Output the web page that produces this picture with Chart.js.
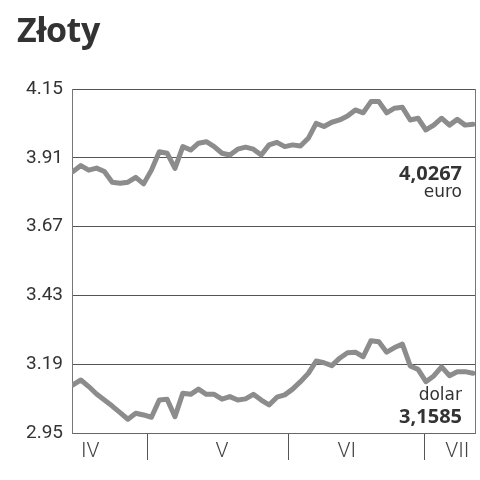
<!DOCTYPE html>
<html>
<head>
<meta charset="utf-8">
<script src="https://cdn.jsdelivr.net/npm/chart.js@4.4.1/dist/chart.umd.min.js"></script>
<style>
  body { margin: 0; background: #fff; }
  #wrap { position: relative; width: 480px; height: 480px; }
  #title {
    position: absolute; left: 17px; top: 6px; margin: 0;
    font: bold 34px "Open Sans", sans-serif; color: #333; letter-spacing: -0.5px;
  }
  canvas { position: absolute; left: 0; top: 0; }
</style>
</head>
<body>
<div id="wrap">
  <canvas id="zlotyChart" width="480" height="480"></canvas>
  <h1 id="title">Złoty</h1>
</div>
<script>
// kursy (dni robocze, od połowy kwietnia do początku lipca)
const euroValues = [3.862, 3.883, 3.867, 3.874, 3.862, 3.825, 3.821, 3.825, 3.842, 3.819,
  3.867, 3.931, 3.926, 3.873, 3.949, 3.937, 3.961, 3.966, 3.949, 3.926,
  3.920, 3.940, 3.947, 3.940, 3.920, 3.955, 3.964, 3.949, 3.955, 3.951,
  3.978, 4.030, 4.019, 4.034, 4.042, 4.056, 4.077, 4.067, 4.106, 4.106,
  4.067, 4.083, 4.086, 4.042, 4.048, 4.007, 4.024, 4.048, 4.024, 4.044,
  4.024, 4.0267];
const dollarValues = [3.118, 3.135, 3.112, 3.086, 3.065, 3.044, 3.021, 2.998, 3.019, 3.013,
  3.005, 3.065, 3.068, 3.007, 3.089, 3.085, 3.103, 3.085, 3.085, 3.068,
  3.077, 3.065, 3.069, 3.085, 3.065, 3.048, 3.075, 3.083, 3.103, 3.129,
  3.158, 3.201, 3.195, 3.185, 3.211, 3.230, 3.232, 3.216, 3.272, 3.268,
  3.232, 3.248, 3.260, 3.184, 3.172, 3.129, 3.149, 3.181, 3.150, 3.164,
  3.164, 3.1585];

const yTicks = [2.95, 3.19, 3.43, 3.67, 3.91, 4.15];
const monthLabels = ['IV', 'V', 'VI', 'VII'];
const monthCenters = [2.2, 19.0, 34.9, 49.0];   // w jednostkach dni
const monthBreaks = [9.44, 27.54, 44.88];

const euroLast = '4,0267';
const dollarLast = '3,1585';

const LINE = '#8c8c8c';
const TEXT = '#333';

const toPoints = arr => arr.map((v, i) => ({ x: i, y: v }));

// opisy przy prawej krawędzi
const endLabels = {
  id: 'endLabels',
  afterDatasetsDraw(chart) {
    const { ctx, chartArea } = chart;
    const yScale = chart.scales.y;
    const x = chartArea.right - 13;
    ctx.save();
    ctx.fillStyle = TEXT;
    ctx.textAlign = 'right';
    ctx.textBaseline = 'middle';
    const yEuro = yScale.getPixelForValue(3.91);
    ctx.font = 'bold 20px "Open Sans", sans-serif';
    ctx.fillText(euroLast, x, yEuro + 16);
    ctx.font = '17px "DejaVu Sans", sans-serif';
    ctx.fillText('euro', x, yEuro + 35);
    const yBottom = chartArea.bottom;
    ctx.font = '17px "DejaVu Sans", sans-serif';
    ctx.fillText('dolar', x, yBottom - 37);
    ctx.font = 'bold 20px "Open Sans", sans-serif';
    ctx.fillText(dollarLast, x, yBottom - 16);
    ctx.restore();
  }
};

const allXTicks = [...monthCenters, ...monthBreaks].sort((a, b) => a - b);

new Chart(document.getElementById('zlotyChart'), {
  type: 'line',
  data: {
    datasets: [
      { label: 'euro', data: toPoints(euroValues) },
      { label: 'dolar', data: toPoints(dollarValues) }
    ]
  },
  options: {
    responsive: false,
    animation: false,
    devicePixelRatio: 1,
    layout: { padding: { top: 89, right: 5, left: 0, bottom: 0 } },
    elements: {
      line: { borderColor: LINE, borderWidth: 5, tension: 0, borderJoinStyle: 'round', borderCapStyle: 'round' },
      point: { radius: 0 }
    },
    plugins: { legend: { display: false }, tooltip: { enabled: false } },
    scales: {
      x: {
        type: 'linear',
        min: -0.13,
        max: 51.26,
        afterBuildTicks: scale => { scale.ticks = allXTicks.map(v => ({ value: v })); },
        afterFit: scale => { scale.height = 47; },
        border: { color: '#666', width: 1 },
        grid: {
          drawOnChartArea: false,
          tickLength: 27,
          color: ctx => (ctx.tick && monthBreaks.includes(ctx.tick.value)) ? '#555' : 'rgba(0,0,0,0)'
        },
        ticks: {
          autoSkip: false,
          maxRotation: 0,
          padding: -21,
          color: '#444',
          font: { family: 'Roboto', size: 21, weight: '300' },
          callback: value => {
            const i = monthCenters.indexOf(value);
            return i >= 0 ? monthLabels[i] : '';
          }
        }
      },
      y: {
        min: 2.95,
        max: 4.15,
        afterBuildTicks: scale => { scale.ticks = yTicks.map(v => ({ value: v })); },
        afterFit: scale => { scale.width = 72; },
        border: { color: '#777', width: 1 },
        grid: { color: '#555', lineWidth: 1, drawTicks: false },
        ticks: {
          padding: 9,
          color: TEXT,
          font: { family: 'Roboto', size: 19 },
          callback: v => v.toFixed(2)
        }
      },
      y2: {
        position: 'right',
        min: 2.95,
        max: 4.15,
        afterFit: scale => { scale.width = 0; },
        border: { color: '#777', width: 1 },
        grid: { display: false },
        ticks: { display: false }
      }
    }
  },
  plugins: [endLabels]
});
</script>
</body>
</html>
